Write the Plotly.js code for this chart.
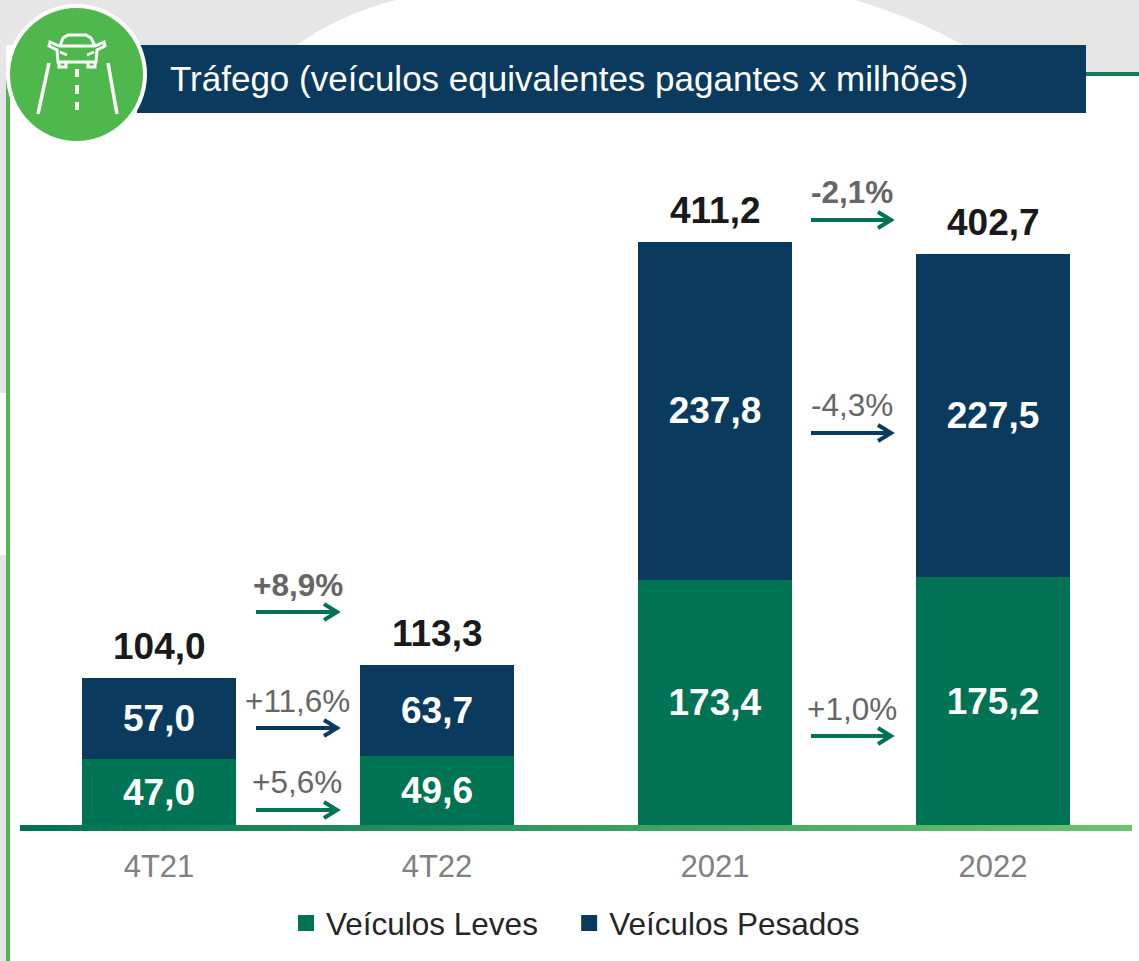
<!DOCTYPE html>
<html><head><meta charset="utf-8">
<script src="https://cdn.plot.ly/plotly-3.0.1.min.js"></script>
<style>html,body{margin:0;padding:0;background:#fff;overflow:hidden}#c{width:1139px;height:961px}</style>
</head><body><div id="c"></div>
<script>
const categories = ['4T21','4T22','2021','2022'];
const leves = [47.0,49.6,173.4,175.2];
const pesados = [57.0,63.7,237.8,227.5];
const totais = [104.0,113.3,411.2,402.7];
const variacoes = ['+8,9%','+11,6%','+5,6%','-2,1%','-4,3%','+1,0%'];
const tituloTexto = 'Tráfego (veículos equivalentes pagantes x milhões)';

const W=1139,H=961,L=20,R=1132,BASE=826,PXU=1.42;
const NAVY='#0a3a5e',GREEN='#007354',BRIGHT='#4fb84c',GRAY='#e6e6e6';
const FONT='"Liberation Sans", Arial, sans-serif';
const px=x=>(x-L)/(R-L);
const py=y=>(BASE-y)/BASE;
const pp=(x,y)=>px(x).toFixed(5)+','+py(y).toFixed(5);
const shapes=[];
function rect(x0,y0,x1,y1,color,layer){shapes.push({type:'rect',xref:'paper',yref:'paper',x0:px(x0),x1:px(x1),y0:py(y0),y1:py(y1),fillcolor:color,line:{width:0},layer:layer||'below'});}
function poly(d,color,layer){shapes.push({type:'path',xref:'paper',yref:'paper',path:d,fillcolor:color,line:{width:0},layer:layer||'below'});}
function stroke(pts,color,w,layer,closed){const d='M'+pts.map(p=>pp(p[0],p[1])).join('L')+(closed?'Z':'');shapes.push({type:'path',xref:'paper',yref:'paper',path:d,fillcolor:'rgba(0,0,0,0)',line:{color:color,width:w},layer:layer||'above'});}
// background
rect(0,0,W,45,GRAY);
rect(1086,45,W,72,GRAY);
rect(1086,72,W,76,'#147a5c');
rect(0,45,6,393,GRAY);
rect(0,555,6,H,GRAY);
rect(6,70,10,H,BRIGHT);
poly('M'+pp(297,45)+'Q'+pp(340,14)+','+pp(396,0)+'L'+pp(855,0)+'Q'+pp(915,18)+','+pp(963,45)+'Z','#ffffff');
// header
rect(137,45,1086,113,NAVY);
function circle(cx,cy,r,color){shapes.push({type:'circle',xref:'paper',yref:'paper',x0:px(cx-r),x1:px(cx+r),y0:py(cy+r),y1:py(cy-r),fillcolor:color,line:{width:0},layer:'above'});}
circle(76.5,74.5,70.5,'#ffffff');
circle(76.5,74.5,66.5,BRIGHT);
// road icon
stroke([[49,63],[38,114]],'#fff',3.5);
stroke([[108,63],[117,114]],'#fff',3.5);
[[69,77],[85,94],[102,110]].forEach(s=>stroke([[77,s[0]],[77,s[1]]],'#fff',4));
stroke([[60,46],[63,38],[68,35],[86,35],[91,38],[95,46]],'#fff',3);
stroke([[59,46],[50,42],[49,46],[57,50],[58,62],[96,62],[97,50],[105,46],[104,42],[95,46],[59,46]],'#fff',3);
stroke([[59,62],[59,67],[66,67],[66,62]],'#fff',3);
stroke([[88,62],[88,67],[95,67],[95,62]],'#fff',3);
stroke([[60,52],[67,55]],'#fff',2.5);
stroke([[94,52],[87,55]],'#fff',2.5);
// gradient baseline
const c0=[0,115,84],c1=[108,197,107],N=111;
for(let i=0;i<N;i++){const t=i/(N-1);const c=c0.map((v,k)=>Math.round(v+(c1[k]-v)*t));
 const x0=L+(R-L)*i/N;rect(x0,825,Math.min(R,x0+(R-L)/N+0.6),831,'rgb('+c.join(',')+')','above');}
// arrows
const arrows=[[256,340,612,GREEN],[256,340,728,NAVY],[256,340,810,GREEN],[811,894,220,GREEN],[811,894,433,NAVY],[811,894,736,GREEN]];
arrows.forEach(a=>{stroke([[a[0],a[2]],[a[1]-3,a[2]]],a[3],4);stroke([[a[1]-16,a[2]-8],[a[1]-3,a[2]],[a[1]-16,a[2]+8]],a[3],4);});
// texts
const labelPos=[[298,585,true],[297,701,false],[297,782,false],[852,192,true],[852,405,false],[852,709,false]];
const annotations=variacoes.map((t,i)=>({xref:'paper',yref:'paper',x:px(labelPos[i][0]),y:py(labelPos[i][1]),text:labelPos[i][2]?'<b>'+t+'</b>':t,showarrow:false,xanchor:'center',yanchor:'middle',font:{family:FONT,size:31.5,color:'#666666'}}));
totais.forEach((v,i)=>annotations.push({x:i,y:v,xref:'x',yref:'y',xanchor:'center',yanchor:'bottom',yshift:9,showarrow:false,text:'<b>'+v.toFixed(1).replace('.',',')+'</b>',font:{family:FONT,size:37,color:'#1a1a1a'}}));

const barBase={type:'bar',x:categories,width:0.554,texttemplate:'%{y:.1f}',textposition:'inside',insidetextanchor:'middle',textangle:0,constraintext:'none',textfont:{family:FONT,size:37,color:'#fff',weight:700},showlegend:false,hoverinfo:'x+y+name',cliponaxis:false};
const legendDummy=(n,c)=>({type:'scatter',mode:'markers',x:[categories[0]],y:[null],name:n,marker:{symbol:'square',size:16,color:c},showlegend:true});
const data=[
 Object.assign({},barBase,{name:'Veículos Leves',y:leves,marker:{color:GREEN}}),
 Object.assign({},barBase,{name:'Veículos Pesados',y:pesados,marker:{color:NAVY}}),
 legendDummy('Veículos Leves\u00A0\u00A0\u00A0',GREEN),legendDummy('Veículos Pesados',NAVY)
];
const layout={width:W,height:H,autosize:false,
 margin:{l:L,r:W-R,t:0,b:H-BASE,pad:0},
 paper_bgcolor:'#ffffff',plot_bgcolor:'rgba(0,0,0,0)',
 barmode:'stack',separators:',.',
 font:{family:FONT},
 title:{text:tituloTexto,xref:'container',yref:'container',x:170/W,xanchor:'left',y:1-79/H,yanchor:'middle',font:{family:FONT,size:35,color:'#ffffff'}},
 xaxis:{type:'category',categories:categories,range:[-0.5,3.5],showgrid:false,zeroline:false,showline:false,ticks:'',ticklabelstandoff:19,tickfont:{family:FONT,size:31,color:'#808080'},fixedrange:true},
 yaxis:{range:[0,BASE/PXU],visible:false,showgrid:false,zeroline:false,fixedrange:true},
 legend:{orientation:'h',x:px(286),xanchor:'left',y:py(923),yanchor:'middle',font:{family:FONT,size:31.5,color:'#262626'},bgcolor:'rgba(0,0,0,0)',borderwidth:0,traceorder:'normal'},
 shapes:shapes,annotations:annotations,hovermode:false
};
Plotly.newPlot('c',data,layout,{displayModeBar:false,staticPlot:true});
</script></body></html>
